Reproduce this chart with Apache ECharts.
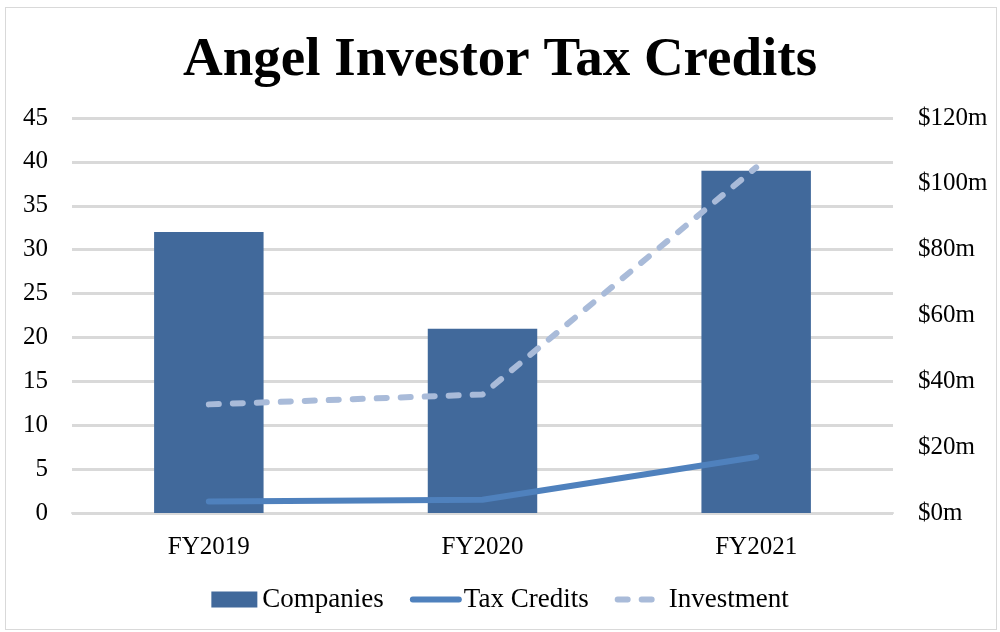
<!DOCTYPE html>
<html lang="en">
<head>
    <meta charset="UTF-8">
    <title>Angel Investor Tax Credits</title>
    <script src="https://cdn.jsdelivr.net/npm/echarts@6/dist/echarts.min.js"></script>
    <style>
        html, body { margin: 0; padding: 0; background: #fff; }
        #frame { position: absolute; left: 5px; top: 7px; width: 992px; height: 623px; border: 1px solid #d9d9d9; box-sizing: border-box; }
        #chart { width: 1000px; height: 632px; position: absolute; left: 0; top: 0; }
    </style>
</head>
<body>
<div id="frame"></div>
<div id="chart"></div>
<script type="text/javascript">
    // data
    var years = ['FY2019', 'FY2020', 'FY2021']
    var companies = [32, 21, 39]
    var taxCredits = [3.5, 4, 17]        // $m
    var investment = [33, 36, 105]       // $m

    var serif = '"Liberation Serif", "DejaVu Serif", serif'

    var option = {
        title: {
            text: 'Angel Investor Tax Credits',
            left: 'center',
            top: 28,
            textStyle: { fontFamily: serif, fontSize: 55, fontWeight: 'bold', color: '#000' }
        },
        legend: {
            bottom: 14,
            left: 'center',
            itemGap: 26,
            itemWidth: 46,
            itemHeight: 16,
            textStyle: { fontFamily: serif, fontSize: 27, color: '#000' },
            data: [
                { name: 'Companies', icon: 'rect' },
                { name: 'Tax Credits', itemStyle: { opacity: 0 }, lineStyle: { width: 6, cap: 'round' } },
                { name: 'Investment', itemStyle: { opacity: 0 }, lineStyle: { width: 6, type: [10, 14], cap: 'round' } }
            ]
        },
        grid: { left: 72, right: 107, top: 118, bottom: 119 },
        xAxis: {
            type: 'category',
            data: years,
            axisTick: { show: false },
            axisLine: { lineStyle: { color: '#d9d9d9', width: 2 } },
            axisLabel: { fontFamily: serif, fontSize: 25, color: '#000', margin: 22 }
        },
        yAxis: [
            {
                type: 'value',
                min: 0, max: 45, interval: 5,
                axisLabel: { fontFamily: serif, fontSize: 25, color: '#000', margin: 24 },
                splitLine: { lineStyle: { color: '#d9d9d9', width: 3 } }
            },
            {
                type: 'value',
                min: 0, max: 120, interval: 20,
                position: 'right',
                axisLabel: {
                    fontFamily: serif, fontSize: 25, color: '#000', margin: 25,
                    formatter: function (v) { return '$' + v + 'm' }
                },
                splitLine: { show: false }
            }
        ],
        series: [
            {
                name: 'Companies',
                type: 'bar',
                data: companies,
                barWidth: '40%',
                itemStyle: { color: '#41699b' }
            },
            {
                name: 'Tax Credits',
                type: 'line',
                yAxisIndex: 1,
                data: taxCredits,
                symbol: 'none',
                itemStyle: { color: '#4f81bd' },
                lineStyle: { color: '#4f81bd', width: 6, cap: 'round', join: 'round' }
            },
            {
                name: 'Investment',
                type: 'line',
                yAxisIndex: 1,
                data: investment,
                symbol: 'none',
                itemStyle: { color: '#a9bbd9' },
                lineStyle: { color: '#a9bbd9', width: 6, type: [10, 14], cap: 'round', join: 'round' }
            }
        ]
    };

    var myChart = echarts.init(document.getElementById('chart'));
    myChart.setOption(option);
</script>
</body>
</html>
